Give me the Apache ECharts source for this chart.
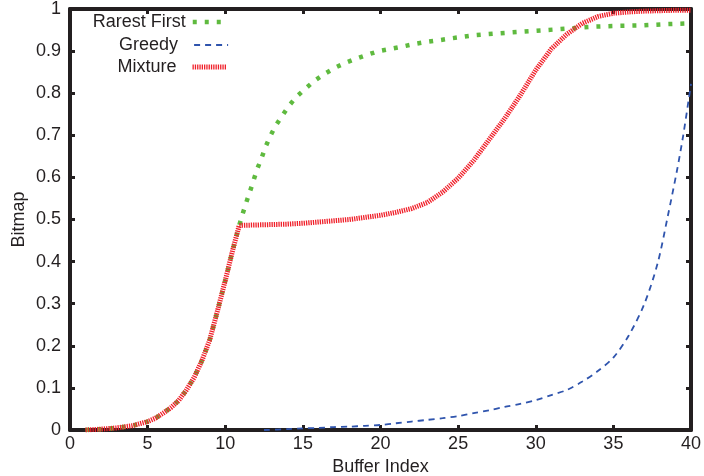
<!DOCTYPE html>
<html>
<head>
<meta charset="utf-8">
<script src="https://cdn.jsdelivr.net/npm/echarts@6/dist/echarts.min.js"></script>
<style>html,body{margin:0;padding:0;background:#fff}#c{width:704px;height:476px}</style>
</head>
<body>
<div id="c"></div>
<script>
var seriesNames = ['Rarest First', 'Greedy', 'Mixture'];
var xTicks = [0, 5, 10, 15, 20, 25, 30, 35, 40];
var yTickLabels = ['0', '0.1', '0.2', '0.3', '0.4', '0.5', '0.6', '0.7', '0.8', '0.9', '1'];

var rarestX = [1, 2, 3, 4, 5, 5.5, 6, 6.5, 7, 7.5, 8, 8.5, 9, 9.5, 10, 10.5, 10.9, 11.1, 11.33, 11.58, 12.05, 12.33, 12.6, 12.9, 13.25, 13.7, 14.1, 14.6, 15.2, 15.8, 16.4, 17.1, 17.8, 18.5, 19.2, 19.9, 20.75, 21.45, 22.2, 23, 23.8, 24.5, 25.3, 26.1, 27.5, 29.1, 30.7, 32.2, 33.7, 35.3, 36.8, 38.4, 40];
var rarestY = [0, 0.002, 0.005, 0.01, 0.02, 0.028, 0.04, 0.053, 0.07, 0.095, 0.125, 0.165, 0.214, 0.283, 0.355, 0.43, 0.486, 0.511, 0.538, 0.565, 0.619, 0.645, 0.673, 0.698, 0.723, 0.748, 0.77, 0.792, 0.812, 0.831, 0.846, 0.861, 0.873, 0.883, 0.892, 0.9, 0.906, 0.911, 0.917, 0.922, 0.926, 0.93, 0.934, 0.938, 0.942, 0.946, 0.95, 0.954, 0.958, 0.96, 0.961, 0.964, 0.966];

var greedyX = [12.5, 14, 15, 16, 17, 18, 19, 20, 21, 22, 23, 24, 25, 26, 27, 28, 29, 30, 31, 32, 33, 34, 35, 36, 37, 37.85, 38.5, 39.1, 39.5, 40];
var greedyY = [0, 0.002, 0.004, 0.005, 0.007, 0.008, 0.01, 0.012, 0.016, 0.02, 0.024, 0.028, 0.033, 0.04, 0.047, 0.055, 0.062, 0.071, 0.083, 0.095, 0.115, 0.14, 0.172, 0.225, 0.3, 0.396, 0.507, 0.617, 0.7, 0.822];

var mixtureX = [1, 2, 3, 4, 5, 5.5, 6, 6.5, 7, 7.5, 8, 8.5, 9, 9.5, 10, 10.5, 10.9, 12, 13, 14, 15, 16, 17, 18, 19, 20, 21, 22, 23, 24, 25, 26, 27, 28, 29, 30, 31, 32, 33, 34, 35, 36, 37, 38, 39, 40];
var mixtureY = [0, 0.002, 0.005, 0.01, 0.02, 0.028, 0.04, 0.053, 0.07, 0.095, 0.125, 0.165, 0.214, 0.283, 0.355, 0.43, 0.486, 0.487, 0.488, 0.489, 0.491, 0.494, 0.497, 0.5, 0.505, 0.51, 0.517, 0.526, 0.54, 0.565, 0.598, 0.64, 0.69, 0.74, 0.795, 0.855, 0.905, 0.94, 0.966, 0.982, 0.99, 0.993, 0.995, 0.996, 0.997, 0.997];

function pairs(xs, ys) { return xs.map(function (x, i) { return [x, ys[i]]; }); }

var ink = '#231f20';
var font = 'Liberation Sans, Arial, Helvetica, sans-serif';
var colors = ['#5fba3f', '#2f54ad', '#f0202a'];
var styles = [
  { width: 4.5, type: [4, 8] },
  { width: 1.8, type: [6, 5] },
  { width: 5, type: [1.3, 1] }
];
var axisCommon = {
  type: 'value',
  axisLine: { show: true, onZero: false, lineStyle: { color: ink, width: 4 } },
  axisTick: { show: true, inside: true, length: 5, lineStyle: { color: ink, width: 3 } },
  splitLine: { show: false }
};

function legendFor(i, top, padRight) {
  return {
    orient: 'horizontal', align: 'right', right: 475, top: top,
    itemWidth: 34, itemHeight: 8, itemGap: 0, padding: 0,
    selectedMode: false,
    data: [seriesNames[i]],
    itemStyle: { color: 'transparent', borderWidth: 0, opacity: 0 },
    lineStyle: { color: colors[i], width: styles[i].width, type: styles[i].type },
    textStyle: { fontFamily: font, fontSize: 18, color: ink, padding: [0, padRight, 0, 0] }
  };
}

var chart = echarts.init(document.getElementById('c'), null, { renderer: 'canvas' });
chart.setOption({
  animation: false,
  backgroundColor: '#fff',
  grid: { left: 70, right: 13, top: 9, bottom: 46, containLabel: false, outerBoundsMode: 'none' },
  legend: [legendFor(0, 13, 2), legendFor(1, 36, 11), legendFor(2, 58, 11)],
  xAxis: [
    Object.assign({}, axisCommon, {
      position: 'bottom', min: xTicks[0], max: xTicks[xTicks.length - 1], interval: 5,
      name: 'Buffer Index', nameLocation: 'middle', nameGap: 26,
      nameTextStyle: { fontFamily: font, fontSize: 18, color: ink },
      axisLabel: { fontFamily: font, fontSize: 18, color: ink, margin: 5 }
    }),
    Object.assign({}, axisCommon, {
      position: 'top', min: xTicks[0], max: xTicks[xTicks.length - 1], interval: 5,
      axisLabel: { show: false }
    })
  ],
  yAxis: [
    Object.assign({}, axisCommon, {
      position: 'left', min: 0, max: 1, interval: 0.1,
      name: 'Bitmap', nameLocation: 'middle', nameGap: 42, nameRotate: 90, nameMoveOverlap: false,
      nameTextStyle: { fontFamily: font, fontSize: 18, color: ink },
      axisLabel: {
        fontFamily: font, fontSize: 18, color: ink, margin: 9,
        formatter: function (v) { return yTickLabels[Math.round(v * 10)]; }
      }
    }),
    Object.assign({}, axisCommon, {
      position: 'right', min: 0, max: 1, interval: 0.1,
      axisLabel: { show: false }
    })
  ],
  series: [
    {
      name: seriesNames[0], type: 'line', symbol: 'none', z: 2,
      data: pairs(rarestX, rarestY),
      lineStyle: { color: colors[0], width: styles[0].width, type: styles[0].type },
      itemStyle: { color: colors[0] }
    },
    {
      name: seriesNames[1], type: 'line', symbol: 'none', z: 3, smooth: 0.3,
      data: pairs(greedyX, greedyY),
      lineStyle: { color: colors[1], width: styles[1].width, type: styles[1].type },
      itemStyle: { color: colors[1] }
    },
    {
      name: seriesNames[2], type: 'line', symbol: 'none', z: 4,
      data: pairs(mixtureX, mixtureY),
      lineStyle: { color: colors[2], width: styles[2].width, type: styles[2].type },
      itemStyle: { color: colors[2] }
    }
  ]
});
</script>
</body>
</html>
